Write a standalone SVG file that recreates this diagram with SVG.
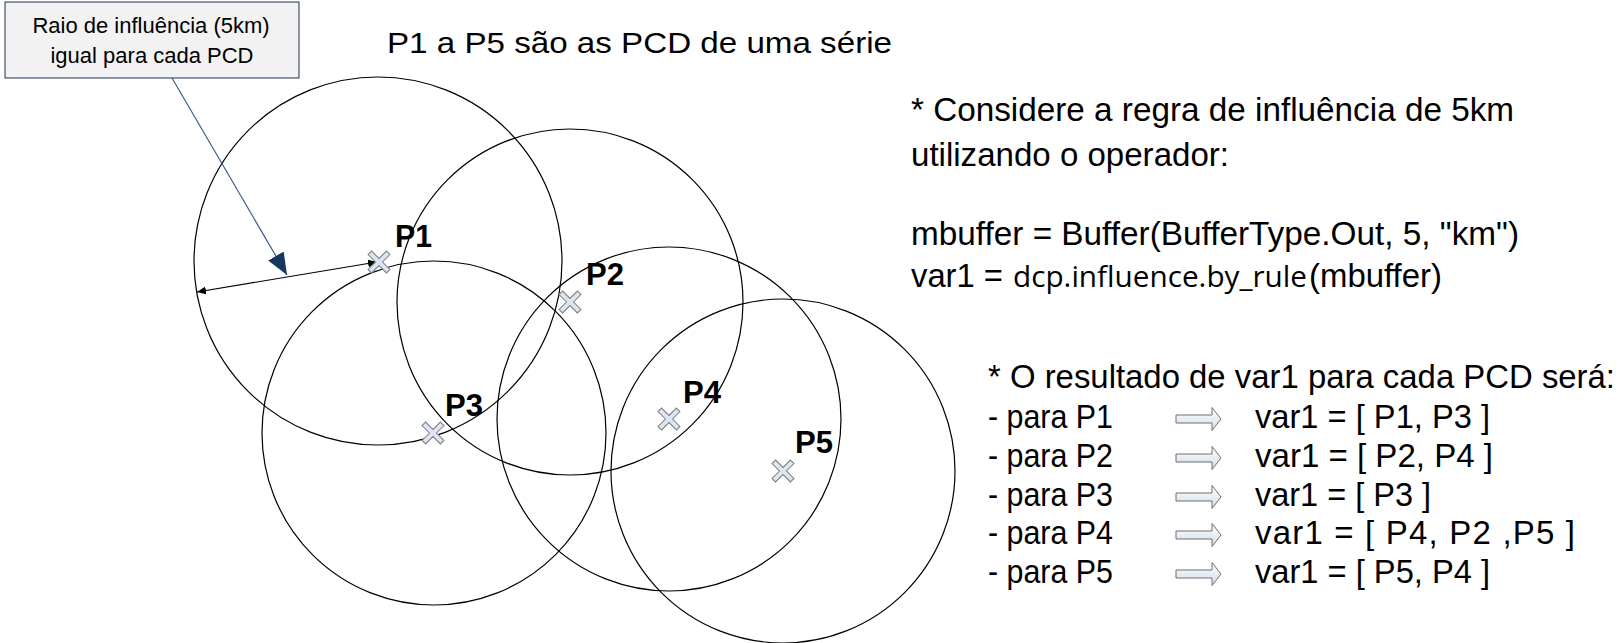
<svg xmlns="http://www.w3.org/2000/svg" width="1623" height="643" viewBox="0 0 1623 643">
<style>
.c{fill:none;stroke:#000;stroke-width:1.2}
.t{font-family:"Liberation Sans",Arial,sans-serif;fill:#000}
.r{font-family:"Liberation Sans",Arial,sans-serif;fill:#000;font-size:33px}
.lbl{font-family:"Liberation Sans",Arial,sans-serif;font-weight:bold;font-size:32px;fill:#000}
.x{fill:#dce6f2;stroke:#7f7f7f;stroke-width:1}
.ba{fill:url(#g);stroke:#6f6f6f;stroke-width:1}
</style>
<defs>
<linearGradient id="g" x1="0" y1="0" x2="0" y2="1"><stop offset="0" stop-color="#ffffff"/><stop offset="1" stop-color="#d0dcec"/></linearGradient>
<marker id="nav" markerUnits="userSpaceOnUse" markerWidth="24" markerHeight="20" refX="22" refY="9" orient="auto"><path d="M0,0 L22,9 L0,18 Z" fill="#17375e"/></marker>
<marker id="sm" markerUnits="userSpaceOnUse" markerWidth="10" markerHeight="8" refX="9" refY="4" orient="auto-start-reverse"><path d="M0,0 L9,4 L0,8 Z" fill="#000"/></marker>
<polygon id="cross" points="-2.5,-13 2.5,-13 2.5,-2.5 13,-2.5 13,2.5 2.5,2.5 2.5,13 -2.5,13 -2.5,2.5 -13,2.5 -13,-2.5 -2.5,-2.5" transform="rotate(45)"/>
<path id="blk" d="M0,-4 H36 V-11.5 L45,0 L36,11.5 V4 H0 Z"/>
</defs>

<g id="circles">
<circle class="c" cx="378" cy="261" r="184"/>
<circle class="c" cx="570" cy="302" r="173"/>
<circle class="c" cx="434" cy="433" r="172"/>
<circle class="c" cx="669" cy="419" r="172"/>
<circle class="c" cx="783" cy="471" r="172"/>
</g>

<g id="note">
<rect x="5" y="2" width="294" height="76" fill="#f2f2f2" stroke="#44546a" stroke-width="1.2"/>
<text class="t" font-size="22" text-anchor="middle" x="151" y="33">Raio de influência (5km)</text>
<text class="t" font-size="22" text-anchor="middle" x="152" y="63">igual para cada PCD</text>
</g>

<g id="connectors">
<line x1="172" y1="78" x2="287" y2="275" stroke="#385d8a" stroke-width="1.2" marker-end="url(#nav)"/>
<line x1="197" y1="292" x2="377" y2="262" stroke="#000" stroke-width="1.2" marker-start="url(#sm)" marker-end="url(#sm)"/>
</g>

<g id="P1"><use href="#cross" class="x" transform="translate(379,262)"/><text class="lbl" x="395" y="247" textLength="37" lengthAdjust="spacingAndGlyphs">P1</text></g>
<g id="P2"><use href="#cross" class="x" transform="translate(570,302)"/><text class="lbl" x="586" y="285" textLength="38" lengthAdjust="spacingAndGlyphs">P2</text></g>
<g id="P3"><use href="#cross" class="x" transform="translate(433,433)"/><text class="lbl" x="445" y="416" textLength="38" lengthAdjust="spacingAndGlyphs">P3</text></g>
<g id="P4"><use href="#cross" class="x" transform="translate(669,419)"/><text class="lbl" x="683" y="403" textLength="38" lengthAdjust="spacingAndGlyphs">P4</text></g>
<g id="P5"><use href="#cross" class="x" transform="translate(783,471)"/><text class="lbl" x="795" y="453" textLength="38" lengthAdjust="spacingAndGlyphs">P5</text></g>

<g id="title">
<text class="t" font-size="30" x="387" y="53" textLength="505" lengthAdjust="spacingAndGlyphs">P1 a P5 são as PCD de uma série</text>
</g>

<g id="rule">
<text class="r" x="911" y="121" textLength="603" lengthAdjust="spacingAndGlyphs">* Considere a regra de influência de 5km</text>
<text class="r" x="911" y="166" textLength="318" lengthAdjust="spacingAndGlyphs">utilizando o operador:</text>
<text class="r" x="911" y="245" textLength="608" lengthAdjust="spacingAndGlyphs">mbuffer = Buffer(BufferType.Out, 5, "km")</text>
<text class="r" x="911" y="287" textLength="92" lengthAdjust="spacingAndGlyphs">var1 =</text>
<text x="1013" y="287" font-family="'Open Sans','Noto Sans',sans-serif" font-size="29" textLength="294" lengthAdjust="spacingAndGlyphs">dcp.influence.by_rule</text>
<text class="r" x="1309" y="287" textLength="133" lengthAdjust="spacingAndGlyphs">(mbuffer)</text>
</g>

<g id="result">
<text class="r" x="988" y="388" textLength="627" lengthAdjust="spacingAndGlyphs">* O resultado de var1 para cada PCD será:</text>
<text class="r" x="988" y="428" textLength="125" lengthAdjust="spacingAndGlyphs">- para P1</text>
<text class="r" x="988" y="467" textLength="125" lengthAdjust="spacingAndGlyphs">- para P2</text>
<text class="r" x="988" y="506" textLength="125" lengthAdjust="spacingAndGlyphs">- para P3</text>
<text class="r" x="988" y="544" textLength="125" lengthAdjust="spacingAndGlyphs">- para P4</text>
<text class="r" x="988" y="583" textLength="125" lengthAdjust="spacingAndGlyphs">- para P5</text>
<use href="#blk" class="ba" transform="translate(1176,419)"/>
<use href="#blk" class="ba" transform="translate(1176,458)"/>
<use href="#blk" class="ba" transform="translate(1176,497)"/>
<use href="#blk" class="ba" transform="translate(1176,535)"/>
<use href="#blk" class="ba" transform="translate(1176,574)"/>
<text class="r" x="1255" y="428" textLength="235" lengthAdjust="spacingAndGlyphs">var1 = [ P1, P3 ]</text>
<text class="r" x="1255" y="467" textLength="238" lengthAdjust="spacingAndGlyphs">var1 = [ P2, P4 ]</text>
<text class="r" x="1255" y="506" textLength="176" lengthAdjust="spacingAndGlyphs">var1 = [ P3 ]</text>
<text class="r" x="1255" y="544" textLength="320" lengthAdjust="spacing">var1 = [ P4, P2 ,P5 ]</text>
<text class="r" x="1255" y="583" textLength="235" lengthAdjust="spacingAndGlyphs">var1 = [ P5, P4 ]</text>
</g>
</svg>
